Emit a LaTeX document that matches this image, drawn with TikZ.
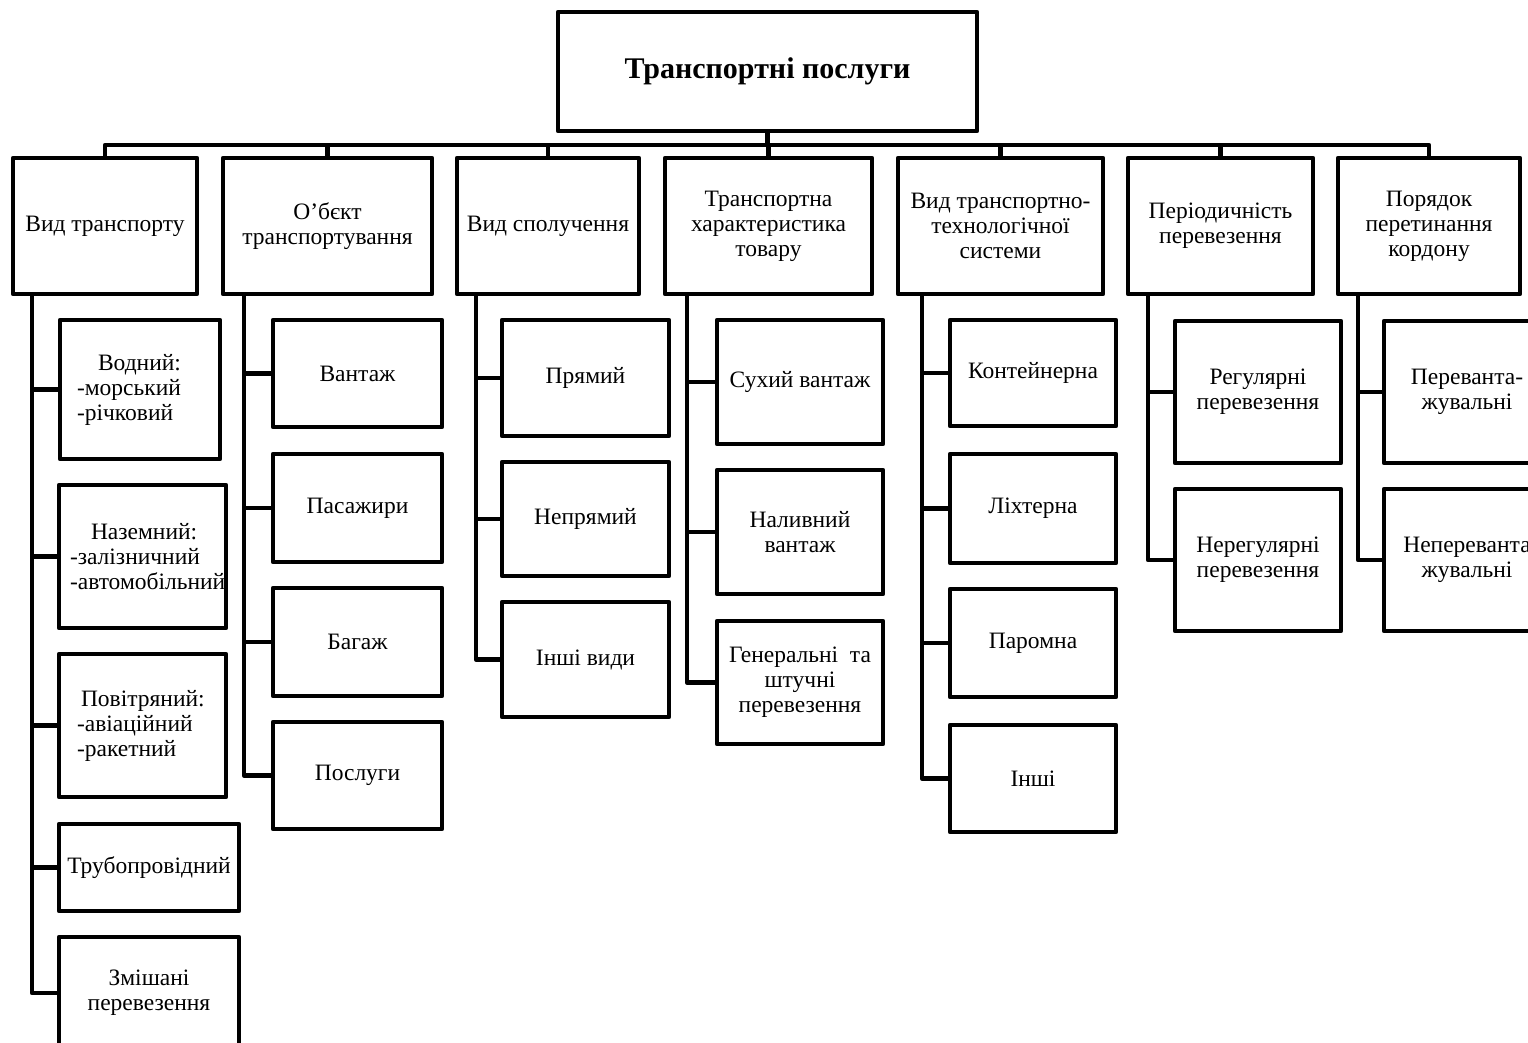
\documentclass[tikz,border=0pt]{standalone}
\usepackage{fontspec}
\setmainfont{Liberation Serif}
\begin{document}
\begin{tikzpicture}[x=1pt,y=-1pt,line width=4.4pt,line join=round,
  box/.style={draw,rectangle,inner sep=2pt,outer sep=0pt,align=center,
    font=\fontsize{23.5}{25}\selectfont},
  lbox/.style={box,align=left,inner xsep=0pt},
  conn/.style={draw,line width=4.4pt}]
\useasboundingbox (0,0) rectangle (1528,1043);
\begin{scope}
\clip (0,0) rectangle (1528,1043);
% top
\node[box,minimum width=419pt,minimum height=119pt,font=\fontsize{30}{32}\selectfont\bfseries] (top) at (767.5,71.5) {Транспортні послуги};
% categories
\node[box,minimum width=184pt,minimum height=136pt] (c1) at (105,226) {Вид транспорту};
\node[box,minimum width=209pt,minimum height=136pt] (c2) at (327.5,226) {О'бєкт\\транспортування};
\node[box,minimum width=182pt,minimum height=136pt] (c3) at (548,226) {Вид сполучення};
\node[box,minimum width=207pt,minimum height=136pt] (c4) at (768.5,226) {Транспортна\\характеристика\\товару};
\node[box,minimum width=205pt,minimum height=136pt] (c5) at (1000.5,226) {Вид транспортно-\\технологічної\\системи};
\node[box,minimum width=185pt,minimum height=136pt] (c6) at (1220.5,226) {Періодичність\\перевезення};
\node[box,minimum width=182pt,minimum height=136pt] (c7) at (1429,226) {Порядок\\перетинання\\кордону};
% column 1
\node[lbox,minimum width=160pt,text width=160pt,minimum height=139pt] (a1) at (140,389.5) {\hspace*{38pt}Водний:\\\hspace*{17pt}-морський\\\hspace*{17pt}-річковий};
\node[lbox,minimum width=167pt,text width=167pt,minimum height=143pt] (a2) at (142.5,556.5) {\hspace*{32pt}Наземний:\\\hspace*{11pt}-залізничний\\\hspace*{11pt}-автомобільний};
\node[lbox,minimum width=167pt,text width=167pt,minimum height=143pt] (a3) at (142.5,725.5) {\hspace*{22pt}Повітряний:\\\hspace*{18pt}-авіаційний\\\hspace*{18pt}-ракетний};
\node[box,minimum width=180pt,minimum height=87pt] (a4) at (149,867.5) {Трубопровідний};
\node[box,minimum width=180pt,minimum height=112pt] (a5) at (149,993) {Змішані\\перевезення};
% column 2
\node[box,minimum width=169pt,minimum height=107pt] (b1) at (357.5,373.5) {Вантаж};
\node[box,minimum width=169pt,minimum height=108pt] (b2) at (357.5,508) {Пасажири};
\node[box,minimum width=169pt,minimum height=108pt] (b3) at (357.5,642) {Багаж};
\node[box,minimum width=169pt,minimum height=107pt] (b4) at (357.5,775.5) {Послуги};
% column 3
\node[box,minimum width=167pt,minimum height=116pt] (d1) at (585.5,378) {Прямий};
\node[box,minimum width=167pt,minimum height=114pt] (d2) at (585.5,519) {Непрямий};
\node[box,minimum width=167pt,minimum height=115pt] (d3) at (585.5,659.5) {Інші види};
% column 4
\node[box,minimum width=166pt,minimum height=124pt] (e1) at (800,382) {Сухий вантаж};
\node[box,minimum width=166pt,minimum height=124pt] (e2) at (800,532) {Наливний\\вантаж};
\node[box,minimum width=166pt,minimum height=123pt] (e3) at (800,682.5) {Генеральні~~та\\штучні\\перевезення};
% column 5
\node[box,minimum width=166pt,minimum height=106pt] (f1) at (1033,373) {Контейнерна};
\node[box,minimum width=166pt,minimum height=109pt] (f2) at (1033,508.5) {Ліхтерна};
\node[box,minimum width=166pt,minimum height=108pt] (f3) at (1033,643) {Паромна};
\node[box,minimum width=166pt,minimum height=107pt] (f4) at (1033,778.5) {Інші};
% column 6
\node[box,minimum width=166pt,minimum height=142pt] (g1) at (1258,392) {Регулярні\\перевезення};
\node[box,minimum width=166pt,minimum height=142pt] (g2) at (1258,560) {Нерегулярні\\перевезення};
% column 7
\node[box,minimum width=166pt,minimum height=142pt] (h1) at (1467,392) {Переванта-\\жувальні};
\node[box,minimum width=166pt,minimum height=142pt] (h2) at (1467,560) {Непереванта\\жувальні};
% connectors: top bus
\coordinate (bus) at (767.5,145);
\draw[conn] (top.south) -- (bus);
\foreach \c in {c1,c2,c3,c4,c5,c6,c7} \draw[conn] (\c.north) |- (bus);
% spines
\foreach \ch in {a1,a2,a3,a4,a5} \draw[conn] ([xshift=19pt]c1.south west) |- (\ch.west);
\foreach \ch in {b1,b2,b3,b4} \draw[conn] ([xshift=21pt]c2.south west) |- (\ch.west);
\foreach \ch in {d1,d2,d3} \draw[conn] ([xshift=19pt]c3.south west) |- (\ch.west);
\foreach \ch in {e1,e2,e3} \draw[conn] ([xshift=22pt]c4.south west) |- (\ch.west);
\foreach \ch in {f1,f2,f3,f4} \draw[conn] ([xshift=24pt]c5.south west) |- (\ch.west);
\foreach \ch in {g1,g2} \draw[conn] ([xshift=20pt]c6.south west) |- (\ch.west);
\foreach \ch in {h1,h2} \draw[conn] ([xshift=20pt]c7.south west) |- (\ch.west);
\end{scope}
\end{tikzpicture}
\end{document}
